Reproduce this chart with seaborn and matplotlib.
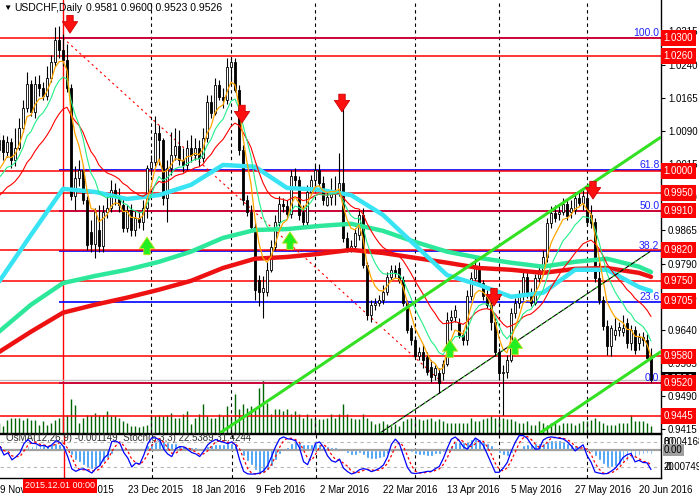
import numpy as np
import pandas as pd
import matplotlib
matplotlib.use('Agg')
import matplotlib.pyplot as plt
import matplotlib.transforms as mtrans
import seaborn as sns

# daily bars, 9 Nov 2015 .. 23 Jun 2016 (one entry per bar)
OPEN = [1.0047, 1.0070, 1.0043, 1.0065, 1.0024, 1.0052, 1.0097, 1.0142, 1.0196, 1.0133,
        1.0196, 1.0187, 1.0169, 1.0210, 1.0246, 1.0296, 1.0273, 1.0250, 1.0187, 0.9943,
        0.9984, 1.0002, 0.9934, 0.9862, 0.9835, 0.9866, 0.9830, 0.9907, 0.9916, 0.9957,
        0.9943, 0.9923, 0.9871, 0.9911, 0.9866, 0.9893, 0.9884, 0.9916, 1.0006, 1.0020,
        1.0086, 1.0070, 0.9939, 1.0006, 1.0036, 1.0056, 1.0024, 1.0013, 1.0052, 1.0036,
        1.0052, 1.0029, 1.0074, 1.0155, 1.0131, 1.0194, 1.0167, 1.0160, 1.0235, 1.0246,
        1.0183, 1.0047, 0.9934, 0.9907, 0.9873, 0.9753, 0.9726, 0.9726, 0.9776, 0.9828,
        0.9884, 0.9925, 0.9920, 0.9902, 0.9988, 0.9979, 0.9907, 0.9884, 0.9952, 0.9979,
        1.0002, 0.9972, 0.9923, 0.9941, 0.9957, 0.9952, 0.9972, 0.9848, 0.9826, 0.9830,
        0.9855, 0.9900, 0.9787, 0.9674, 0.9697, 0.9701, 0.9708, 0.9726, 0.9760, 0.9776,
        0.9780, 0.9753, 0.9701, 0.9645, 0.9618, 0.9581, 0.9591, 0.9579, 0.9557, 0.9539,
        0.9543, 0.9543, 0.9563, 0.9663, 0.9670, 0.9656, 0.9629, 0.9618, 0.9717, 0.9758,
        0.9780, 0.9746, 0.9717, 0.9697, 0.9658, 0.9591, 0.9543, 0.9545, 0.9572, 0.9679,
        0.9701, 0.9719, 0.9760, 0.9719, 0.9701, 0.9758, 0.9776, 0.9805, 0.9882, 0.9905,
        0.9902, 0.9907, 0.9925, 0.9907, 0.9911, 0.9939, 0.9927, 0.9939, 0.9900, 0.9884,
        0.9758, 0.9708, 0.9649, 0.9604, 0.9629, 0.9640, 0.9636, 0.9656, 0.9611, 0.9640,
        0.9611, 0.9624, 0.9618, 0.9581]
HIGH = [1.0088, 1.0081, 1.0079, 1.0074, 1.0097, 1.0119, 1.0160, 1.0223, 1.0205, 1.0214,
        1.0216, 1.0201, 1.0237, 1.0262, 1.0325, 1.0327, 1.0309, 1.0287, 1.0196, 1.0011,
        1.0024, 1.0013, 0.9943, 0.9889, 0.9916, 0.9923, 0.9923, 0.9943, 0.9979, 0.9972,
        0.9961, 0.9939, 0.9923, 0.9925, 0.9911, 0.9907, 0.9934, 1.0013, 1.0036, 1.0124,
        1.0103, 1.0074, 1.0024, 1.0088, 1.0097, 1.0092, 1.0052, 1.0070, 1.0081, 1.0074,
        1.0070, 1.0097, 1.0171, 1.0171, 1.0210, 1.0205, 1.0187, 1.0255, 1.0257, 1.0255,
        1.0194, 1.0058, 0.9945, 0.9923, 0.9884, 0.9764, 0.9762, 0.9794, 0.9844, 0.9900,
        0.9943, 0.9939, 0.9934, 1.0002, 1.0006, 0.9988, 0.9923, 0.9968, 0.9991, 1.0013,
        1.0015, 0.9988, 0.9957, 0.9984, 0.9988, 1.0040, 1.0160, 0.9862, 0.9844, 0.9871,
        0.9911, 0.9916, 0.9794, 0.9708, 0.9713, 0.9719, 0.9742, 0.9771, 0.9787, 0.9787,
        0.9794, 0.9762, 0.9708, 0.9652, 0.9627, 0.9602, 0.9609, 0.9591, 0.9572, 0.9561,
        0.9554, 0.9572, 0.9681, 0.9685, 0.9697, 0.9667, 0.9640, 0.9731, 0.9771, 0.9803,
        0.9794, 0.9753, 0.9731, 0.9708, 0.9667, 0.9600, 0.9561, 0.9584, 0.9690, 0.9713,
        0.9731, 0.9771, 0.9776, 0.9735, 0.9767, 0.9789, 0.9821, 0.9893, 0.9920, 0.9923,
        0.9920, 0.9939, 0.9934, 0.9934, 0.9952, 0.9952, 0.9957, 0.9952, 0.9923, 0.9893,
        0.9794, 0.9717, 0.9663, 0.9652, 0.9667, 0.9658, 0.9674, 0.9667, 0.9652, 0.9649,
        0.9633, 0.9636, 0.9631, 0.9600]
LOW = [1.0029, 1.0024, 1.0031, 1.0006, 1.0011, 1.0047, 1.0088, 1.0133, 1.0124, 1.0119,
       1.0169, 1.0160, 1.0160, 1.0201, 1.0237, 1.0255, 1.0237, 1.0178, 0.9934, 0.9911,
       0.9966, 0.9925, 0.9821, 0.9817, 0.9803, 0.9817, 0.9817, 0.9893, 0.9907, 0.9923,
       0.9907, 0.9862, 0.9862, 0.9853, 0.9853, 0.9871, 0.9866, 0.9893, 0.9991, 1.0011,
       1.0013, 0.9923, 0.9884, 0.9991, 1.0024, 1.0013, 0.9997, 1.0002, 1.0020, 1.0024,
       1.0011, 1.0020, 1.0065, 1.0119, 1.0126, 1.0160, 1.0142, 1.0151, 1.0201, 1.0178,
       1.0036, 0.9923, 0.9898, 0.9862, 0.9708, 0.9694, 0.9667, 0.9717, 0.9771, 0.9821,
       0.9875, 0.9907, 0.9893, 0.9893, 0.9966, 0.9889, 0.9875, 0.9877, 0.9945, 0.9961,
       0.9966, 0.9923, 0.9920, 0.9923, 0.9923, 0.9943, 0.9839, 0.9817, 0.9817, 0.9821,
       0.9844, 0.9780, 0.9663, 0.9658, 0.9685, 0.9694, 0.9699, 0.9719, 0.9753, 0.9758,
       0.9746, 0.9694, 0.9633, 0.9606, 0.9577, 0.9572, 0.9554, 0.9539, 0.9523, 0.9527,
       0.9498, 0.9527, 0.9559, 0.9640, 0.9658, 0.9622, 0.9606, 0.9606, 0.9708, 0.9753,
       0.9740, 0.9708, 0.9690, 0.9640, 0.9581, 0.9527, 0.9448, 0.9532, 0.9568, 0.9667,
       0.9690, 0.9708, 0.9713, 0.9694, 0.9697, 0.9749, 0.9764, 0.9794, 0.9871, 0.9884,
       0.9889, 0.9900, 0.9889, 0.9893, 0.9902, 0.9920, 0.9911, 0.9875, 0.9871, 0.9749,
       0.9699, 0.9640, 0.9584, 0.9581, 0.9618, 0.9627, 0.9627, 0.9600, 0.9595, 0.9586,
       0.9595, 0.9604, 0.9572, 0.9523]
CLOSE = [1.0070, 1.0043, 1.0065, 1.0024, 1.0052, 1.0097, 1.0142, 1.0196, 1.0133, 1.0196,
         1.0187, 1.0169, 1.0210, 1.0246, 1.0296, 1.0273, 1.0250, 1.0187, 0.9943, 0.9984,
         1.0002, 0.9934, 0.9832, 0.9835, 0.9907, 0.9830, 0.9907, 0.9916, 0.9957, 0.9943,
         0.9923, 0.9871, 0.9911, 0.9866, 0.9893, 0.9884, 0.9916, 1.0006, 1.0020, 1.0086,
         1.0070, 0.9939, 1.0006, 1.0036, 1.0056, 1.0024, 1.0013, 1.0052, 1.0036, 1.0052,
         1.0029, 1.0074, 1.0155, 1.0131, 1.0194, 1.0167, 1.0160, 1.0235, 1.0246, 1.0183,
         1.0047, 0.9934, 0.9907, 0.9873, 0.9731, 0.9726, 0.9735, 0.9776, 0.9828, 0.9884,
         0.9925, 0.9920, 0.9902, 0.9988, 0.9979, 0.9900, 0.9884, 0.9952, 0.9979, 1.0002,
         0.9972, 0.9934, 0.9941, 0.9957, 0.9952, 0.9972, 0.9848, 0.9826, 0.9830, 0.9859,
         0.9900, 0.9787, 0.9674, 0.9697, 0.9701, 0.9708, 0.9726, 0.9760, 0.9776, 0.9769,
         0.9753, 0.9701, 0.9640, 0.9618, 0.9581, 0.9591, 0.9572, 0.9545, 0.9534, 0.9554,
         0.9520, 0.9563, 0.9663, 0.9670, 0.9685, 0.9629, 0.9618, 0.9717, 0.9758, 0.9780,
         0.9746, 0.9717, 0.9697, 0.9658, 0.9591, 0.9543, 0.9545, 0.9572, 0.9679, 0.9701,
         0.9719, 0.9760, 0.9719, 0.9701, 0.9758, 0.9776, 0.9805, 0.9882, 0.9905, 0.9893,
         0.9907, 0.9925, 0.9898, 0.9916, 0.9939, 0.9927, 0.9943, 0.9884, 0.9882, 0.9758,
         0.9708, 0.9649, 0.9604, 0.9645, 0.9640, 0.9647, 0.9645, 0.9611, 0.9640, 0.9595,
         0.9624, 0.9618, 0.9577, 0.9526]
VOLUME = [10, 7, 13, 15, 15, 15, 13, 15, 13, 13, 8, 12, 8, 10, 13, 15, 16, 18, 34, 28,
          10, 15, 18, 18, 20, 18, 18, 22, 17, 17, 15, 12, 10, 7, 7, 6, 7, 8, 18, 17,
          18, 17, 18, 20, 15, 15, 19, 22, 9, 15, 19, 29, 17, 15, 15, 19, 17, 27, 15, 39,
          24, 29, 25, 27, 25, 45, 53, 30, 19, 24, 24, 22, 24, 19, 22, 19, 15, 19, 15, 15,
          14, 14, 15, 19, 15, 19, 29, 19, 15, 14, 14, 19, 15, 12, 9, 10, 12, 9, 7, 9,
          7, 12, 14, 15, 14, 14, 13, 14, 15, 12, 14, 12, 10, 10, 10, 10, 10, 10, 15, 12,
          12, 14, 15, 17, 15, 14, 15, 14, 14, 12, 10, 10, 12, 8, 8, 12, 10, 8, 10, 10,
          8, 10, 10, 10, 8, 10, 12, 12, 13, 15, 12, 10, 8, 8, 8, 10, 10, 10, 18, 12,
          12, 12, 10, 7]

# slow moving averages every 8 bars (and at the last bar)
MA_BARS = [0, 8, 16, 24, 32, 40, 48, 56, 64, 72, 80, 88, 96, 104, 112, 120, 128,
           136, 144, 152, 160, 163]
MA_CYAN = [0.9749, 0.9855, 0.9959, 0.9952, 0.9936, 0.9945, 0.9968, 1.0013, 1.0009,
           0.9961, 0.9957, 0.9945, 0.9900, 0.9832, 0.9764, 0.9742, 0.9715, 0.9724,
           0.9776, 0.9776, 0.9737, 0.9728]
MA_TEAL = [0.9636, 0.9697, 0.9746, 0.9762, 0.9776, 0.9794, 0.9817, 0.9848, 0.9866,
           0.9868, 0.9875, 0.9880, 0.9864, 0.9839, 0.9817, 0.9803, 0.9792, 0.9783,
           0.9794, 0.9801, 0.9783, 0.9771]
MA_RED = [0.9590, 0.9636, 0.9679, 0.9697, 0.9713, 0.9731, 0.9751, 0.9780, 0.9801,
          0.9805, 0.9812, 0.9821, 0.9814, 0.9803, 0.9792, 0.9780, 0.9776, 0.9769,
          0.9778, 0.9780, 0.9769, 0.9760]
# starting values of the fast averages at the first bar
FAST_SEED = {'orange': 1.0002, 'green': 0.9984, 'red': 0.9943}

RED_LEVELS = [1.0300, 1.0260, 1.0000, 0.9950, 0.9910, 0.9820, 0.9750, 0.9580, 0.9520, 0.9445]
LABEL_LEVELS = RED_LEVELS + [0.9705]
FIB_HIGH, FIB_LOW, FIB_BAR = 1.0300, 0.9520, 15
FIB_RATIOS = [100.0, 61.8, 50.0, 38.2, 23.6, 0.0]
BID = 0.9526
PRICE_TICKS = [1.0315, 1.0240, 1.0165, 1.0090, 1.0015, 0.9940, 0.9865, 0.9790,
               0.9715, 0.9640, 0.9565, 0.9490, 0.9415]

# trend lines as (bar, price) anchors
CHANNEL_TOP = [(55.25, 0.9407), (165.5, 1.0076)]
CHANNEL_BOTTOM = [(135.25, 0.9407), (165.5, 0.9591)]
MID_LINE = [(95.25, 0.9407), (162.75, 0.9817)]
FIB_LINE = [(16, 1.0300), (111, 0.9520)]

DOWN_BARS = [17.75, 60.75, 85.75, 123.75, 148.5]
DOWN_TIPS = [1.0311, 1.0108, 1.0133, 0.9694, 0.9936]
UP_BARS = [37, 72.75, 112.75, 129]
UP_TIPS = [0.9850, 0.9862, 0.9618, 0.9624]

MONTH_START_BARS = [38, 58, 79, 104, 125, 147]
CURSOR_BAR = 16
DATE_BARS = [0, 16, 32, 48, 64, 80, 96, 112, 128, 144, 160]
DATE_LABELS = ['9 Nov 2015', '1 Dec 2015', '23 Dec 2015', '18 Jan 2016', '9 Feb 2016',
               '2 Mar 2016', '22 Mar 2016', '13 Apr 2016', '5 May 2016', '27 May 2016',
               '20 Jun 2016']

sns.set_style('white')
plt.rcParams['font.family'] = ['Liberation Sans', 'DejaVu Sans']
plt.rcParams['font.size'] = 7

W, H = 699, 497
fig = plt.figure(figsize=(W / 100, H / 100), dpi=100)
fig.patch.set_facecolor('white')


def box(x0, y0, x1, y1):
    return [x0 / W, 1 - y1 / H, (x1 - x0) / W, (y1 - y0) / H]


idx = np.arange(len(CLOSE))
o, h, l, c = (np.array(v) for v in (OPEN, HIGH, LOW, CLOSE))
XLIM = (0.25, 165.5)

# volume sits behind the price pane
vax = fig.add_axes(box(0, 0, 661, 433))
vax.vlines(idx, 0, VOLUME, color='#006400', lw=1)
vax.set_ylim(0, 433)
vax.set_xlim(*XLIM)
vax.axis('off')

ax = fig.add_axes(box(0, 0, 661, 433), facecolor='none')
ax.set_xlim(*XLIM)
ax.set_ylim(0.94070, 1.03859)

fib_levels = [FIB_LOW + r / 100 * (FIB_HIGH - FIB_LOW) for r in FIB_RATIOS]
ax.hlines(fib_levels, FIB_BAR, XLIM[1], color='#0000ff', lw=1.2, zorder=2)
for lv in RED_LEVELS:
    ax.axhline(lv, color='#ff0000', lw=1.1, zorder=2.1)
ax.axhline(BID, color='#c0c0c0', lw=1, zorder=1.9)
for r, lv in zip(FIB_RATIOS, fib_levels):
    ax.text(165.1, lv, f'{r:.1f}', color='#2020ff', ha='right', va='bottom',
            fontsize=7.5, zorder=6)

for b in MONTH_START_BARS:
    ax.axvline(b, color='black', lw=0.8, ls=(0, (3, 3)), zorder=1.5)
ax.axvline(CURSOR_BAR, color='#ff0000', lw=1, zorder=1.6)

# candles
ax.vlines(idx, l, h, color='black', lw=0.8, zorder=3)
ax.bar(idx, np.maximum(np.abs(c - o), 0.00006), bottom=np.minimum(o, c), width=0.62,
       color=np.where(c >= o, 'white', 'black'), edgecolor='black', linewidth=0.6,
       zorder=3.1)


def ema(values, span, seed):
    alpha = 2.0 / (span + 1)
    out = [seed]
    for v in values[1:]:
        out.append(alpha * v + (1 - alpha) * out[-1])
    return np.array(out)


sns.lineplot(x=MA_BARS, y=MA_TEAL, ax=ax, color='#2de89a', lw=3.2, zorder=4)
sns.lineplot(x=MA_BARS, y=MA_RED, ax=ax, color='#ee1111', lw=3.2, zorder=4)
sns.lineplot(x=MA_BARS, y=MA_CYAN, ax=ax, color='#38e4f4', lw=3.2, zorder=4.1)
sns.lineplot(x=idx, y=ema(CLOSE, 21, FAST_SEED['red']), ax=ax, color='#ff0000', lw=0.8, zorder=4.2)
sns.lineplot(x=idx, y=ema(CLOSE, 10, FAST_SEED['green']), ax=ax, color='#22ee88', lw=0.8, zorder=4.3)
sns.lineplot(x=idx, y=ema(CLOSE, 5, FAST_SEED['orange']), ax=ax, color='#ffa500', lw=0.9, zorder=4.4)


def seg(anchors, **kw):
    (x0, y0), (x1, y1) = anchors
    ax.plot([x0, x1], [y0, y1], **kw)


seg(CHANNEL_TOP, color='#33e022', lw=2.2, zorder=5, solid_capstyle='butt')
seg(CHANNEL_BOTTOM, color='#33e022', lw=2.2, zorder=5, solid_capstyle='butt')
seg(MID_LINE, color='black', lw=0.8, zorder=5)
seg(MID_LINE, color='#33e022', lw=0.8, ls=(0, (2, 4)), zorder=5.1)
seg(FIB_LINE, color='#ff0000', lw=0.8, ls=(0, (2, 3)), zorder=2.2)

ARROW = 'simple,head_length=0.75,head_width=1.0,tail_width=0.42'
for b, tip in zip(DOWN_BARS, DOWN_TIPS):
    ax.annotate('', xy=(b, tip), xytext=(b, tip + 0.0040),
                arrowprops=dict(arrowstyle=ARROW, fc='#ff1010', ec='#d00000', lw=0.6,
                                shrinkA=0, shrinkB=0, mutation_scale=11), zorder=7)
for b, tip in zip(UP_BARS, UP_TIPS):
    ax.annotate('', xy=(b, tip), xytext=(b, tip - 0.0040),
                arrowprops=dict(arrowstyle=ARROW, fc='#22ee22', ec='#c8e020', lw=0.6,
                                shrinkA=0, shrinkB=0, mutation_scale=11), zorder=7)

for s in ('top', 'left'):
    ax.spines[s].set_visible(False)
for s in ('right', 'bottom'):
    ax.spines[s].set_color('black')
    ax.spines[s].set_linewidth(1)
ax.set_xticks([])
ax.yaxis.tick_right()
ax.set_yticks(PRICE_TICKS)
ax.set_yticklabels([f'{t:.4f}' for t in PRICE_TICKS])
ax.tick_params(axis='y', direction='out', length=3, width=0.8, pad=2, labelsize=7,
               colors='black')

lab = mtrans.blended_transform_factory(ax.transAxes, ax.transData)
ax.text(1.004, BID + 0.0002, f'{BID:.4f}', transform=lab, color='white', fontsize=7,
        va='center', ha='left', clip_on=False, zorder=9,
        bbox=dict(boxstyle='square,pad=0.3', fc='black', ec='none'))
for lv in LABEL_LEVELS:
    ax.text(1.004, lv, f'{lv:.4f}', transform=lab, color='white', fontsize=7, va='center',
            ha='left', clip_on=False, zorder=10,
            bbox=dict(boxstyle='square,pad=0.3', fc='#ff0000', ec='none'))

# OsMA + Stochastic pane
close_s, high_s, low_s = pd.Series(CLOSE), pd.Series(HIGH), pd.Series(LOW)
macd = close_s.ewm(span=12, adjust=False).mean() - close_s.ewm(span=26, adjust=False).mean()
osma = macd - macd.rolling(9, min_periods=1).mean()
hh = high_s.rolling(5, min_periods=1).max()
ll = low_s.rolling(5, min_periods=1).min()
stoch_k = 100 * (close_s - ll).rolling(3, min_periods=1).sum() / (hh - ll).rolling(3, min_periods=1).sum()
stoch_d = stoch_k.rolling(3, min_periods=1).mean()

ax2 = fig.add_axes(box(0, 434, 661, 478))
ax2.set_xlim(*XLIM)
ax2.set_ylim(-0.0085, 0.0049)
ax2.bar(idx, osma, width=0.72, color='#2b93f5', zorder=2)
ax2.axhline(0, color='#a0a0a0', lw=1.6, zorder=2.5)
for b in MONTH_START_BARS:
    ax2.axvline(b, color='black', lw=0.8, ls=(0, (3, 3)), zorder=1.5)
ax2.axvline(CURSOR_BAR, color='#ff0000', lw=1, zorder=1.6)

ax3 = ax2.twinx()
ax3.set_ylim(-6.5, 99.3)
for lv in (80, 20):
    ax3.axhline(lv, color='#b8b8b8', lw=0.8, ls=(0, (3, 3)))
sns.lineplot(x=idx, y=stoch_d, ax=ax3, color='#ff0000', lw=0.9, ls=(0, (2, 2)))
sns.lineplot(x=idx, y=stoch_k, ax=ax3, color='#0000ff', lw=0.9)
ax3.axis('off')
ax3.set_xlim(*XLIM)

ax2.spines['left'].set_visible(False)
for s in ('right', 'top', 'bottom'):
    ax2.spines[s].set_color('black')
    ax2.spines[s].set_linewidth(1)
ax2.set_yticks([])
ax2.set_xticks(DATE_BARS)
ax2.set_xticklabels(DATE_LABELS, ha='left')
ax2.tick_params(axis='x', direction='out', length=3, width=0.8, pad=2, labelsize=7,
                colors='black')

ax2.text(1.5, 0.0037, 'OsMA(12,26,9) -0.001149  Stoch(5,3,3) 22.5389 31.4244',
         color='#303030', fontsize=7, va='center', zorder=8)


def ftext(x, y, s, size=7, **kw):
    fig.text(x / W, 1 - y / H, s, va='center', fontsize=size, **kw)


ftext(664, 442, '0.004168', color='black')
ftext(664, 442, '80', color='black')
ftext(664, 450, '0.00', color='black',
      bbox=dict(boxstyle='square,pad=0.1', fc='#a0a0a0', ec='none'))
ftext(664, 467, '-0.00749', color='black')
ftext(664, 467, '20', color='black')

ftext(3, 8, '\u25bc', size=6, color='black')
ftext(14, 8, 'USDCHF,Daily', color='black', size=7.5)
ftext(86, 8, '0.9581 0.9600 0.9523 0.9526', color='black', size=7.5)
ftext(25, 486, '2015.12.01 00:00', color='white', size=6.5,
      bbox=dict(boxstyle='square,pad=0.25', fc='#ff0000', ec='none'))

fig.savefig('out.png', dpi=100, facecolor='white')
